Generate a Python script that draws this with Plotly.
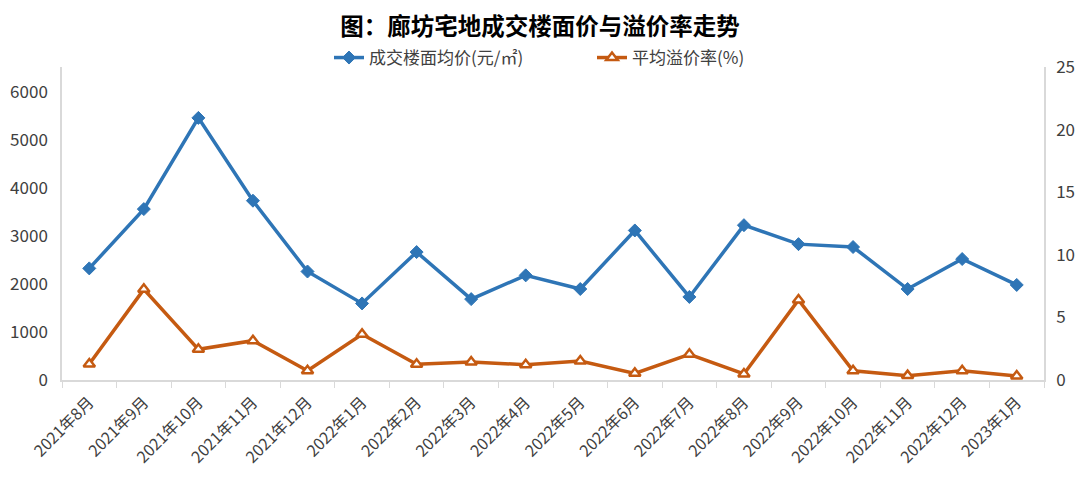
import plotly.graph_objects as go

months = ["2021年8月", "2021年9月", "2021年10月", "2021年11月", "2021年12月",
          "2022年1月", "2022年2月", "2022年3月", "2022年4月", "2022年5月",
          "2022年6月", "2022年7月", "2022年8月", "2022年9月", "2022年10月",
          "2022年11月", "2022年12月", "2023年1月"]
price = [2325, 3560, 5460, 3735, 2260, 1595, 2665, 1685, 2180, 1895,
         3115, 1730, 3225, 2830, 2770, 1895, 2520, 1980]
premium = [1.28, 7.24, 2.45, 3.14, 0.74, 3.65, 1.25, 1.44, 1.22, 1.52,
           0.53, 2.05, 0.48, 6.39, 0.74, 0.35, 0.74, 0.32]

blue = "#2E75B6"
orange = "#C55A11"
font = "Noto Sans CJK SC, Microsoft YaHei, sans-serif"
axis_col = "#D9D9D9"
text_col = "#404040"

fig = go.Figure()
fig.add_trace(go.Scatter(
    x=months, y=price, name="成交楼面均价(元/㎡)", mode="lines+markers",
    line=dict(color=blue, width=3.5),
    marker=dict(symbol="diamond", size=10, color=blue, line=dict(color=blue, width=1)),
    yaxis="y", legend="legend"))
fig.add_trace(go.Scatter(
    x=months, y=premium, name="平均溢价率(%)", mode="lines+markers",
    line=dict(color=orange, width=3.5),
    marker=dict(symbol="triangle-up", size=10, color="white", line=dict(color=orange, width=2.5)),
    yaxis="y2", legend="legend2"))

leg_common = dict(orientation="h", xanchor="left", xref="container",
                  yref="container", y=1 - 58 / 485, yanchor="middle",
                  font=dict(size=17, color=text_col), itemwidth=30,
                  bgcolor="rgba(0,0,0,0)")

fig.update_layout(
    width=1080, height=485,
    margin=dict(l=62, r=36, t=67, b=105, autoexpand=False),
    paper_bgcolor="white", plot_bgcolor="white",
    font=dict(family=font, color=text_col, size=15),
    title=dict(text="<b>图：廊坊宅地成交楼面价与溢价率走势</b>", x=0.5, xref="container",
               y=1 - 27 / 485, yanchor="middle", xanchor="center",
               font=dict(size=23.5, color="#000000", family=font)),
    legend=dict(x=(335 - 6) / 1080, **leg_common),
    legend2=dict(x=(598 - 6) / 1080, **leg_common),
    showlegend=True,
    xaxis=dict(type="category", showline=True, linecolor=axis_col, linewidth=1.5,
               ticks="outside", tickson="boundaries", tickcolor=axis_col, ticklen=6,
               tickangle=-45, tickfont=dict(size=16, color=text_col), showgrid=False,
               range=[-0.5, len(months) - 0.5], automargin=False, ticklabelstandoff=5),
    yaxis=dict(range=[0, 6520], dtick=1000, tick0=0, showline=True, linecolor=axis_col,
               linewidth=1.5, showgrid=False, zeroline=False, ticks="",
               tickfont=dict(size=17, color=text_col), automargin=False,
               ticklabelstandoff=9),
    yaxis2=dict(range=[0, 25], dtick=5, overlaying="y", side="right", showline=True,
                linecolor=axis_col, linewidth=1.5, showgrid=False, zeroline=False,
                ticks="", tickfont=dict(size=17, color=text_col), automargin=False,
                ticklabelstandoff=7),
)

fig.write_html("out.html", config={"displayModeBar": False},
               post_script="document.body.style.margin='0';document.body.style.overflow='hidden';")
